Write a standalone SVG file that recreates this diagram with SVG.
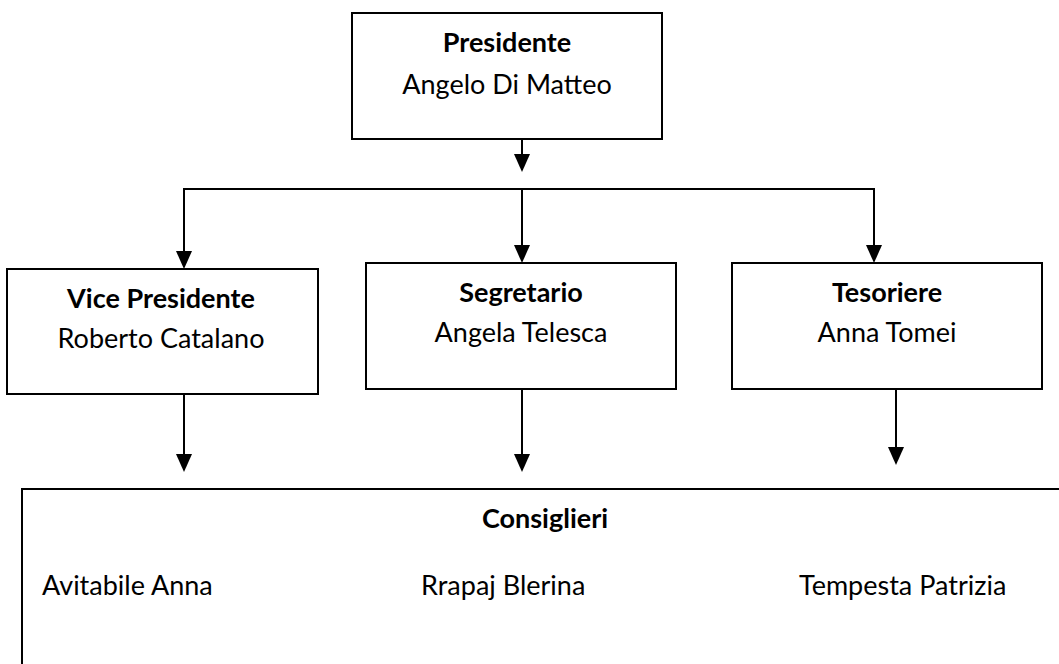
<svg xmlns="http://www.w3.org/2000/svg" width="1059" height="664" viewBox="0 0 1059 664">
<defs>
<style>
.box{fill:#fff;stroke:#000;stroke-width:2}
.t{font-family:Lato,"Liberation Sans",sans-serif;font-size:27px;fill:#000;text-anchor:middle}
.b{font-weight:bold}
.l{text-anchor:start}
.c{fill:none;stroke:#000;stroke-width:2}
.a{marker-end:url(#arr)}
</style>
<marker id="arr" viewBox="0 0 18 16" refX="16" refY="8" markerUnits="userSpaceOnUse" markerWidth="18" markerHeight="16" orient="auto">
<path d="M0,0 L18,8 L0,16 z" fill="#000"/>
</marker>
</defs>
<rect width="1059" height="664" fill="#fff"/>
<g id="connectors">
<path class="c a" d="M522,139 V170"/>
<path class="c" d="M183,189 H875"/>
<path class="c a" d="M184,189 V267"/>
<path class="c a" d="M522,189 V261"/>
<path class="c a" d="M874,189 V261"/>
<path class="c a" d="M184,394 V470"/>
<path class="c a" d="M522,389 V470"/>
<path class="c a" d="M896,389 V463"/>
</g>
<g id="presidente">
<rect class="box" x="352" y="13" width="310" height="126"/>
<text class="t b" x="507" y="52">Presidente</text>
<text class="t" x="507" y="94">Angelo Di Matteo</text>
</g>
<g id="vicepresidente">
<rect class="box" x="7" y="269" width="311" height="125"/>
<text class="t b" x="161" y="308">Vice Presidente</text>
<text class="t" x="161" y="348">Roberto Catalano</text>
</g>
<g id="segretario">
<rect class="box" x="366" y="263" width="310" height="126"/>
<text class="t b" x="521" y="302">Segretario</text>
<text class="t" x="521" y="342">Angela Telesca</text>
</g>
<g id="tesoriere">
<rect class="box" x="732" y="263" width="310" height="126"/>
<text class="t b" x="887" y="302">Tesoriere</text>
<text class="t" x="887" y="342">Anna Tomei</text>
</g>
<g id="consiglieri">
<rect class="box" x="22" y="489" width="1060" height="200"/>
<text class="t b" x="545" y="528">Consiglieri</text>
<text class="t l" x="42" y="595">Avitabile Anna</text>
<text class="t l" x="421" y="595">Rrapaj Blerina</text>
<text class="t l" x="799" y="595">Tempesta Patrizia</text>
</g>
</svg>
